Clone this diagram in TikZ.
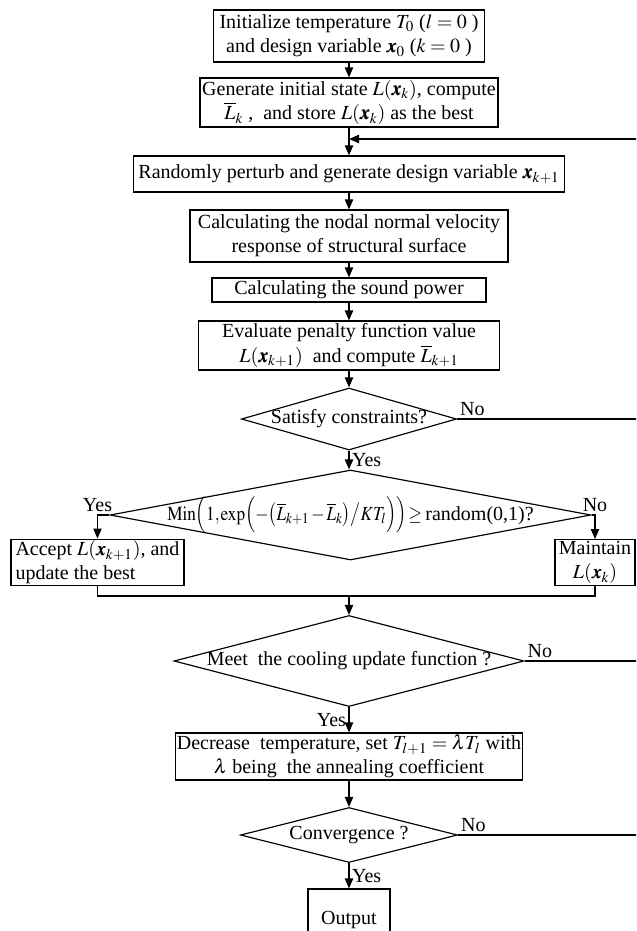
\documentclass[tikz,border=0pt]{standalone}
\usepackage{amsmath}
\usepackage{amssymb}
\usepackage{mathptmx}
\usepackage{bm}
\usepackage{graphicx}
\usepackage[no-math]{fontspec}
\setmainfont{Liberation Serif}
\usepackage{tikz}
\usetikzlibrary{arrows.meta, shapes.geometric}

\newcommand{\bx}{\bm{x}}
\newcommand{\Lbar}{\overline{L}}
\newcommand{\tightmath}[1]{\scalebox{0.86}[1]{$\thinmuskip=1mu\medmuskip=2mu\thickmuskip=2mu #1$}}

\begin{document}
\begin{tikzpicture}[x=0.6pt, y=-0.6pt, >={Triangle[length=6pt,width=5pt]}, line width=0.7pt,
	box/.style={draw, rectangle, align=center, inner sep=1pt, font=\fontsize{12}{14.5}\selectfont},
	decision/.style={draw, diamond, inner sep=0pt, font=\fontsize{12}{14.5}\selectfont},
	lbl/.style={inner sep=1.5pt, font=\fontsize{12}{14.5}\selectfont}]
		\useasboundingbox (0,0) rectangle (636,931);
		\clip (0,0) rectangle (636,931);
		
		\node[box, minimum width=162.6pt, minimum height=31.2pt] (init) at (349,36) {Initialize temperature $T_0$ ($l=0$ )\\ and design variable $\bx_0$ ($k=0$ )};
		\node[box, minimum width=178.8pt, minimum height=29.4pt] (gen) at (349,102.5) {Generate initial state $L(\bx_k)$, compute\\ $\Lbar_k$ ,\ \ and store $L(\bx_k)$ as the best};
		\node[box, minimum width=258.6pt, minimum height=21.6pt] (perturb) at (349,174) {Randomly perturb and generate design variable $\bx_{k+1}$};
		\node[box, minimum width=190.8pt, minimum height=31.2pt] (velo) at (349,236) {Calculating the nodal normal velocity\\ response of structural surface};
		\node[box, minimum width=164.4pt, minimum height=14.4pt] (power) at (349,290) {Calculating the sound power};
		\node[box, minimum width=180.6pt, minimum height=29.4pt] (penalty) at (349,345.5) {Evaluate penalty function value\\ $L(\bx_{k+1})$\ \ and compute $\Lbar_{k+1}$};
		\node[decision, minimum width=129pt, minimum height=37.2pt] (cons) at (349,419) {\makebox[0pt]{Satisfy constraints?}};
		\node[decision, minimum width=288.6pt, minimum height=54pt] (metro) at (350.5,515) {\makebox[0pt]{\tightmath{\mathrm{Min}\Bigl(1,\exp\Bigl(-\bigl(\Lbar_{k+1}-\Lbar_k\bigr)\big/KT_l\Bigr)\Bigr)\geq}\,random(0,1)?}};
		\node[box, align=left, minimum width=103.8pt, minimum height=27pt] (accept) at (97.5,562.5) {Accept $L(\bx_{k+1})$, and\\ update the best};
		\node[box, minimum width=48pt, minimum height=27pt] (keep) at (595,562.5) {Maintain\\ $L(\bx_k)$};
		\node[decision, minimum width=210pt, minimum height=54.6pt] (cool) at (349,661) {\makebox[0pt]{Meet\ \ the cooling update function ?}};
		\node[box, minimum width=205.2pt, minimum height=28.2pt] (decrease) at (349,756.5) {Decrease\ \ temperature, set $T_{l+1}=\lambda T_l$ with\\ $\lambda$ being\ \ the annealing coefficient};
		\node[decision, minimum width=130.2pt, minimum height=33pt] (conv) at (349,835) {\makebox[0pt]{Convergence ?}};
		\node[box, minimum width=49.2pt, minimum height=37.2pt] (output) at (349,920) {Output};
		
		\coordinate (rail) at (650,139);
		\coordinate (back) at (349,139);
		\coordinate (merge) at (349,596);
		
		\draw[->] (init) -- (gen);
		\draw[->] (gen) -- (perturb);
		\draw[->] (perturb) -- (velo);
		\draw[->] (velo) -- (power);
		\draw[->] (power) -- (penalty);
		\draw[->] (penalty) -- (cons);
		\draw[->] (cons) -- node[lbl, right] (consyes) {Yes} (cons |- metro.north);
		\draw[->] (metro.west) -- (metro.west -| accept.north) node[lbl, above] (metroyes) {Yes} -- (accept.north);
		\draw[->] (metro.east) -- (metro.east -| keep.north) node[lbl, above] (metrono) {No} -- (keep.north);
		\draw (accept.south) -- (accept.south |- merge) -- (keep.south |- merge) -- (keep.south);
		\draw[->] (merge) -- (cool);
		\draw[->] (cool) -- node[lbl, left] (coolyes) {Yes} (decrease);
		\draw[->] (decrease) -- (conv);
		\draw[->] (conv) -- node[lbl, right] (convyes) {Yes} (output);
		
		% No branches go back to the perturbation step
		\draw[->] (cons.east) -- node[lbl, above right, pos=0] (consno) {No} (cons.east -| rail) -- (rail) -- (back);
		\draw (cool.east) -- node[lbl, above right, pos=0] (coolno) {No} (cool.east -| rail) -- (rail);
		\draw (conv.east) -- node[lbl, above right, pos=0] (convno) {No} (conv.east -| rail) -- (rail);
	\end{tikzpicture}
\end{document}
